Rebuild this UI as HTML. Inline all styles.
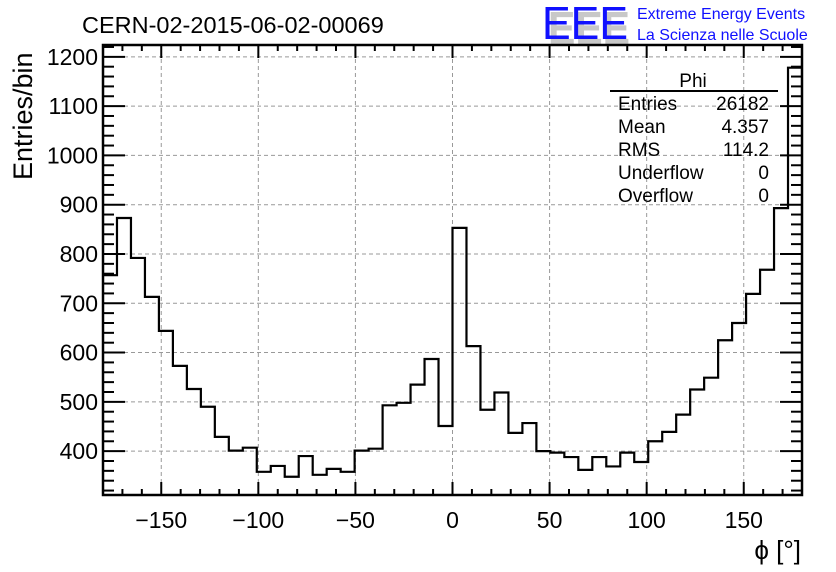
<!DOCTYPE html>
<html><head><meta charset="utf-8"><style>
body{margin:0;background:#fff}
svg{display:block;font-family:"Liberation Sans",Arial,sans-serif}
</style></head><body>
<svg id="chart" width="836" height="572" viewBox="0 0 836 572">
<text x="82" y="33" font-size="23.5">CERN-02-2015-06-02-00069</text>
<g>
<text x="548" y="44" font-size="46" fill="#c8c8c8" font-weight="bold" textLength="82" lengthAdjust="spacingAndGlyphs">EEE</text>
<text x="542" y="39" font-size="46" fill="#1010ff" textLength="86" lengthAdjust="spacingAndGlyphs">EEE</text>
<text x="637" y="19" font-size="16" fill="#1010ff">Extreme Energy Events</text>
<text x="637" y="40" font-size="16" fill="#1010ff">La Scienza nelle Scuole</text>
</g>
<g id="grid"></g>
<g id="axes"></g>
<path id="hist" fill="none" stroke="#000" stroke-width="2.2"/>
<rect x="103" y="45" width="699" height="450" fill="none" stroke="#000" stroke-width="2.5"/>
<g font-size="19">
<text x="693" y="87" text-anchor="middle">Phi</text>
<line x1="610" y1="91" x2="778" y2="91" stroke="#000" stroke-width="2"/>
<text x="618" y="110">Entries</text><text x="769" y="110" text-anchor="end">26182</text>
<text x="618" y="133">Mean</text><text x="769" y="133" text-anchor="end">4.357</text>
<text x="618" y="156">RMS</text><text x="769" y="156" text-anchor="end">114.2</text>
<text x="618" y="179">Underflow</text><text x="769" y="179" text-anchor="end">0</text>
<text x="618" y="202">Overflow</text><text x="769" y="202" text-anchor="end">0</text>
</g>
<text x="0" y="0" font-size="27" transform="translate(32,180) rotate(-90)">Entries/bin</text>
<text x="801" y="559" font-size="26" text-anchor="end">ϕ [°]</text>
</svg>
<script>
const binEdgesMin = -180;
const binWidth = 7.2;
const counts = [757,873,792,713,644,573,526,490,429,401,407,358,370,348,390,352,364,358,401,405,493,498,535,587,451,853,613,484,519,437,457,400,397,388,362,388,369,397,378,420,439,474,525,549,625,660,719,768,893,1178];
const xTicks = [-150,-100,-50,0,50,100,150];
const yTicks = [400,500,600,700,800,900,1000,1100,1200];
const xMin=-180,xMax=180,yMin=311,yMax=1224;
const L=103,R=802,T=45,B=495;
const sx=v=>L+(v-xMin)/(xMax-xMin)*(R-L);
const sy=v=>B-(v-yMin)/(yMax-yMin)*(B-T);
const NS="http://www.w3.org/2000/svg";
const grid=document.getElementById('grid'),axes=document.getElementById('axes');
function mk(tag,at,parent){const e=document.createElementNS(NS,tag);for(const k in at)e.setAttribute(k,at[k]);parent.appendChild(e);return e;}
xTicks.forEach(v=>{
  const g=mk('line',{x1:sx(v),x2:sx(v),y1:T,y2:B,stroke:'#999','stroke-dasharray':'4,3','stroke-width':1},grid);
  
  
  const t=mk('text',{x:sx(v),y:528,'font-size':23,'text-anchor':'middle'},axes);
  t.textContent=v<0?'\u2212'+Math.abs(v):String(v);
  
  
});
yTicks.forEach(v=>{
  const g=mk('line',{x1:L,x2:R,y1:sy(v),y2:sy(v),stroke:'#999','stroke-dasharray':'4,3','stroke-width':1},grid);
  
  
  const t=mk('text',{x:98,y:sy(v)+8,'font-size':23,'text-anchor':'end'},axes);
  t.textContent=String(v);
  
  
});
for(let v=-170;v<=170;v+=10){const maj=v%50===0;const len=maj?13:6;
  mk('line',{x1:sx(v),x2:sx(v),y1:B,y2:B-len,stroke:'#000','stroke-width':2},axes);
  mk('line',{x1:sx(v),x2:sx(v),y1:T,y2:T+len,stroke:'#000','stroke-width':2},axes);}
for(let v=320;v<=1220;v+=20){const maj=v%100===0;const len=maj?22:11;
  mk('line',{x1:L,x2:L+len,y1:sy(v),y2:sy(v),stroke:'#000','stroke-width':2},axes);
  mk('line',{x1:R,x2:R-len,y1:sy(v),y2:sy(v),stroke:'#000','stroke-width':2},axes);}
let d='M'+sx(binEdgesMin)+','+sy(counts[0]);
counts.forEach((c,i)=>{const x0=binEdgesMin+i*binWidth,x1=x0+binWidth;
  d+=' L'+sx(x0)+','+sy(c)+' L'+sx(x1)+','+sy(c);});
document.getElementById('hist').setAttribute('d',d);
</script>
</body></html>
